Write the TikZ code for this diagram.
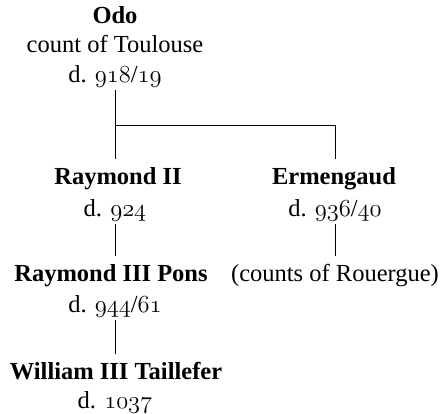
\RequirePackage{fix-cm}
\documentclass[tikz,border=0pt]{standalone}
\usepackage{fontspec}
\setmainfont{Liberation Serif}
\newcommand{\os}[1]{{\fontencoding{OML}\fontfamily{cmm}\fontseries{m}\fontshape{it}\selectfont #1}}
\begin{document}
\begin{tikzpicture}[x=1pt,y=-1pt,
  txt/.style={anchor=base,inner sep=0pt,text height=15pt,text depth=7pt,
    font=\fontsize{24.5}{30}\selectfont},
  nm/.style={txt,font=\fontsize{24.5}{30}\selectfont\bfseries},
  link/.style={line width=0.8pt},
  tonode/.style={link,shorten >=11pt}]
\useasboundingbox (0,0) rectangle (440,414);
\node[nm]  (odo1) at (115,24) {Odo};
\node[txt] (odo2) at (115,53) {count of Toulouse};
\node[txt] (odo3) at (115,83) {d. \os{918}/\os{19}};
\node[nm]  (r2a) at (118,185) {Raymond II};
\node[txt] (r2b) at (115,217) {d. \os{924}};
\node[nm]  (ea) at (334,185) {Ermengaud};
\node[txt] (eb) at (335,217) {d. \os{936}/\os{40}};
\node[nm]  (r3a) at (111,282) {Raymond III Pons};
\node[txt] (r3b) at (115,313) {d. \os{944}/\os{61}};
\node[txt] (ca) at (335,282) {(counts of Rouergue)};
\node[nm]  (wa) at (116,380) {William III Taillefer};
\node[txt] (wb) at (115,409) {d. \os{1037}};
\coordinate (fork) at (115,125);
\coordinate (forkR) at (335,125);
\draw[tonode] (odo3.south) -- (odo3.south |- r2a.north);
\draw[tonode] (fork) -- (forkR) -- (forkR |- ea.north);
\draw[tonode] (r2b.south) -- (r2b.south |- r3a.north);
\draw[tonode] (eb.south) -- (eb.south |- ca.north);
\draw[tonode] (r3b.south) -- (r3b.south |- wa.north);
\end{tikzpicture}
\end{document}
